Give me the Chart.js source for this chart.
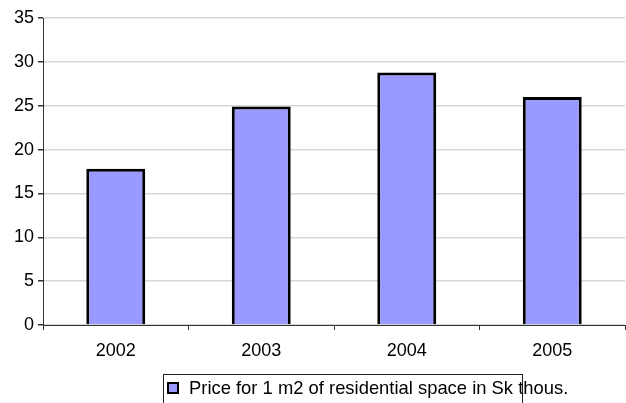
<!DOCTYPE html>
<html>
<head>
<meta charset="utf-8">
<script src="https://cdn.jsdelivr.net/npm/chart.js@4.4.1/dist/chart.umd.min.js"></script>
<style>
  html, body { margin: 0; padding: 0; background: #fff; }
  #wrap { width: 626px; height: 403px; position: relative; }
</style>
</head>
<body>
<div id="wrap"><canvas id="chart"></canvas></div>
<script>
const years = ['2002', '2003', '2004', '2005']
const prices = [17.8, 24.9, 28.8, 26.0]
const seriesLabel = 'Price for 1 m2 of residential space in Sk thous.'
const yMin = 0
const yMax = 35
const yStep = 5

Chart.defaults.font.family = '"Liberation Sans", Arial, sans-serif'
Chart.defaults.font.size = 18
Chart.defaults.color = '#000'

// legend drawn in a box like the original (text runs past the right border)
const boxLegend = {
  id: 'boxLegend',
  afterDraw(chart) {
    const ctx = chart.ctx
    const ds = chart.data.datasets[0]
    ctx.save()
    ctx.strokeStyle = '#222'
    ctx.lineWidth = 1
    ctx.strokeRect(163.5, 374.5, 359, 40)
    ctx.fillStyle = ds.backgroundColor
    ctx.fillRect(168, 383, 10, 10)
    ctx.lineWidth = 2
    ctx.strokeStyle = '#000'
    ctx.strokeRect(168, 383, 10, 10)
    ctx.fillStyle = '#000'
    ctx.font = '18.4px "Liberation Sans", Arial, sans-serif'
    ctx.textBaseline = 'alphabetic'
    ctx.fillText(ds.label, 189, 394)
    ctx.restore()
  }
}

const ctx = document.getElementById('chart').getContext('2d')
new Chart(ctx, {
  type: 'bar',
  data: {
    labels: years,
    datasets: [{
      label: seriesLabel,
      data: prices,
      backgroundColor: '#9999ff',
      borderColor: '#000',
      borderWidth: 3,
      barPercentage: 0.405,
      categoryPercentage: 1
    }]
  },
  options: {
    responsive: true,
    maintainAspectRatio: false,
    animation: false,
    layout: { padding: { top: 18, right: 1, left: 0, bottom: 0 } },
    plugins: {
      legend: { display: false },
      tooltip: { enabled: false }
    },
    scales: {
      x: {
        grid: {
          offset: true,
          drawOnChartArea: false,
          tickLength: 5,
          tickColor: '#333'
        },
        border: { color: '#333', width: 1 },
        ticks: { padding: 10 },
        afterFit: s => { s.height = 78 }
      },
      y: {
        min: yMin,
        max: yMax,
        grid: {
          color: '#d6d6d6',
          lineWidth: 1.5,
          tickLength: 5,
          tickColor: '#333'
        },
        border: { color: '#333', width: 1 },
        ticks: { stepSize: yStep, padding: 4 },
        afterFit: s => { s.width = 43 }
      }
    }
  },
  plugins: [boxLegend]
})
</script>
</body>
</html>
